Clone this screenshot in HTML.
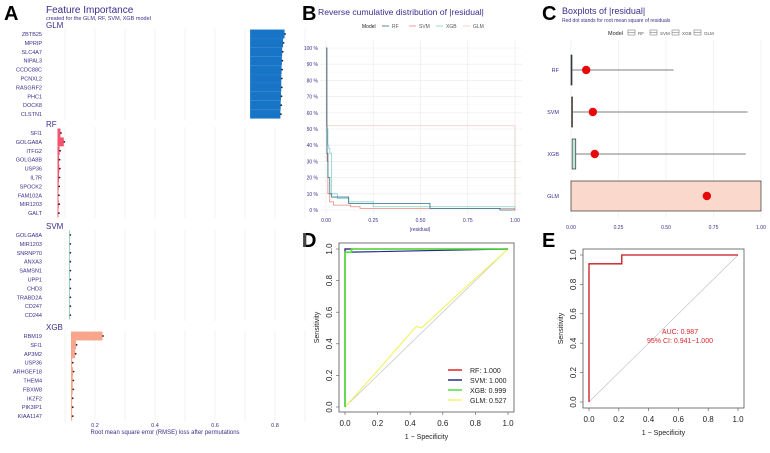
<!DOCTYPE html>
<html><head><meta charset="utf-8"><style>
body{margin:0;background:#fff;font-family:"Liberation Sans",sans-serif}
svg text{font-family:"Liberation Sans",sans-serif}
</style></head><body>
<svg id="s" width="770" height="448" viewBox="0 0 770 448" xmlns="http://www.w3.org/2000/svg">
<g font-weight="bold" font-size="20" fill="#000">
<text x="4" y="20">A</text>
<text x="302" y="20">B</text>
<text x="542" y="20">C</text>
<text x="302" y="247">D</text>
<text x="542" y="247">E</text>
</g>
<text x="46" y="13" font-size="10" fill="#3b2e8c">Feature Importance</text>
<text x="46" y="20" font-size="5.5" fill="#3b2e8c">created for the GLM, RF, SVM, XGB model</text>
<text x="165" y="434" font-size="6" fill="#3b2e8c" text-anchor="middle">Root mean square error (RMSE) loss after permutations</text>
<g id="gA"></g>
<text x="318" y="15" font-size="8.6" fill="#3b2e8c">Reverse cumulative distribution of |residual|</text>
<g id="gB"></g>
<text x="562" y="14" font-size="9" fill="#3b2e8c">Boxplots of |residual|</text>
<text x="562" y="22" font-size="5" fill="#3b2e8c">Red dot stands for root mean square of residuals</text>
<g id="gC"></g>
<g id="gD"></g>
<g id="gE"></g>
</svg>
<script>
const NS="http://www.w3.org/2000/svg";
function mk(p,t,a){const e=document.createElementNS(NS,t);for(const k in a)e.setAttribute(k,a[k]);p.appendChild(e);return e;}
// ---------- Panel A data ----------
const aModels=["GLM","RF","SVM","XGB"];
const aColors=["#1874c6","#f4546e","#2aa6a0","#f7a68c"];
const aBase=[0.717,0.075,0.115,0.12];
const aFeat=[
["ZBTB25","MPRIP","SLC4A7","NIPAL3","CCDC88C","PCNXL2","RASGRF2","PHC1","DOCK8","CLSTN1"],
["SFI1","GOLGA8A","ITFG2","GOLGA8B","USP36","IL7R","SPOCK2","FAM102A","MIR1203","GALT"],
["GOLGA8A","MIR1203","SNRNP70","ANXA3","SAMSN1","UPP1","CHD3","TRABD2A","CD247","CD244"],
["RBM19","SFI1","AP3M2","USP36","ARHGEF18","THEM4","FBXW8","IKZF2","PIK3IP1","KIAA1147"]];
const aVals=[
[0.832,0.827,0.824,0.823,0.822,0.821,0.821,0.820,0.819,0.818],
[0.085,0.096,0.082,0.080,0.081,0.080,0.079,0.078,0.079,0.078],
[0.116,0.116,0.116,0.116,0.116,0.116,0.116,0.116,0.116,0.116],
[0.225,0.137,0.134,0.124,0.127,0.126,0.126,0.124,0.124,0.124]];
const aTicks=[0.2,0.4,0.6,0.8];
const ax=v=>35+v*300;
const gA=document.getElementById('gA');
const aStripY=[26,125,227,328];
for(let m=0;m<4;m++){
  const y0=aStripY[m];
  for(let v=0.1;v<0.95;v+=0.1){const l=mk(gA,'line',{x1:ax(v),x2:ax(v),y1:y0+2,y2:y0+94,stroke:'#ebebeb','stroke-width':0.6});}
  const st=mk(gA,'text',{x:46,y:y0+2,'font-size':8,fill:'#3b2e8c'});st.textContent=aModels[m];
  
  for(let i=0;i<10;i++){
    const yc=y0+8+i*8.9;
    const t=mk(gA,'text',{x:42,y:yc+2,'font-size':5.5,fill:'#3b2e8c','text-anchor':'end'});t.textContent=aFeat[m][i];
    
    const b=mk(gA,'rect',{x:ax(aBase[m]),y:yc-4.45,width:Math.max(0.5,ax(aVals[m][i])-ax(aBase[m])),height:8.9,fill:aColors[m]});
    
    const d=mk(gA,'circle',{cx:ax(aVals[m][i])+0.5,cy:yc,r:0.9,fill:'#222'});
    
  }
}
aTicks.forEach(v=>{const t=mk(gA,'text',{x:ax(v),y:427,'font-size':5.5,fill:'#3b2e8c','text-anchor':'middle'});t.textContent=v;});
// ---------- Panel B ----------
const bModels=["RF","SVM","XGB","GLM"];
const bColors=["#2b6e86","#e4877f","#7fd1c4","#f2c9b8"];
const bX=[[0,0.005,0.01,0.02,0.03,0.05,0.1,0.12,0.55,0.92,1],
[0,0.003,0.006,0.01,0.02,0.04,0.07,0.13,0.18,1],
[0,0.004,0.01,0.015,0.02,0.03,0.06,0.12,0.25,0.92,1],
[0,0.002,0.99,1]];
const bY=[[100,35,20,10,8,8,8,4,1,0,0],
[100,52,30,10,5,3,3,2,1,0],
[100,50,40,38,35,10,7,5,2,2,0],
[100,52,52,0]];
const bTicksX=[0,0.25,0.5,0.75,1];
const bTicksY=[0,10,20,30,40,50,60,70,80,90,100];
const bx=v=>326+v*189, by=v=>210-v*1.62;
const gB=document.getElementById('gB');
bTicksY.forEach(v=>{const l=mk(gB,'line',{x1:320,x2:522,y1:by(v),y2:by(v),stroke:'#ebebeb','stroke-width':0.6});
if(v<100){const l2=mk(gB,'line',{x1:320,x2:522,y1:by(v+5),y2:by(v+5),stroke:'#f4f4f4','stroke-width':0.4});}
const t=mk(gB,'text',{x:318,y:by(v)+2,'font-size':5,fill:'#3b2e8c','text-anchor':'end'});t.textContent=v+' %';});
bTicksX.forEach(v=>{const l=mk(gB,'line',{x1:bx(v),x2:bx(v),y1:40,y2:214,stroke:'#ebebeb','stroke-width':0.6});
const t=mk(gB,'text',{x:bx(v),y:222,'font-size':5,fill:'#3b2e8c','text-anchor':'middle'});t.textContent=v.toFixed(2);});
for(let m=3;m>=0;m--){let d='';for(let i=0;i<bX[m].length;i++){d+=(i?'H'+bx(bX[m][i])+'V'+by(bY[m][i]):'M'+bx(bX[m][i])+' '+by(bY[m][i]));}
const p=mk(gB,'path',{d:d,fill:'none',stroke:bColors[m],'stroke-width':0.8});}
const bt=mk(gB,'text',{x:420,y:231,'font-size':5,fill:'#3b2e8c','text-anchor':'middle'});bt.textContent='|residual|';
let lt=mk(gB,'text',{x:362,y:28,'font-size':5,fill:'#222'});lt.textContent='Model';
bModels.forEach((m,i)=>{const x=382+i*27;const l=mk(gB,'line',{x1:x,x2:x+7,y1:26,y2:26,stroke:bColors[i],'stroke-width':0.8});
const t=mk(gB,'text',{x:x+10,y:28,'font-size':5,fill:'#555'});t.textContent=m;});
// ---------- Panel C ----------
const cModels=["RF","SVM","XGB","GLM"];
const cFill=["#3b4a7a","#e89a8f","#bfe8dd","#fad9cc"];
const cQ1=[0.0,0.003,0.006,0.0], cQ3=[0.003,0.007,0.025,1.0], cWhisk=[0.54,0.93,0.92,1.0], cRmse=[0.08,0.115,0.125,0.715];
const cTicks=[0,0.25,0.5,0.75,1];
const cx=v=>571+v*190; const cy=i=>70+i*42;
const gC=document.getElementById('gC');
cTicks.forEach(v=>{const l=mk(gC,'line',{x1:cx(v),x2:cx(v),y1:40,y2:218,stroke:'#ebebeb','stroke-width':0.6});
const t=mk(gC,'text',{x:cx(v),y:229,'font-size':5,fill:'#3b2e8c','text-anchor':'middle'});t.textContent=v.toFixed(2);});
cModels.forEach((m,i)=>{const y=cy(i);
const t=mk(gC,'text',{x:559,y:y+2,'font-size':5.5,fill:'#3b2e8c','text-anchor':'end'});t.textContent=m;
const w=mk(gC,'line',{x1:cx(cQ3[i]),x2:cx(cWhisk[i]),y1:y,y2:y,stroke:'#555','stroke-width':0.7});
const b=mk(gC,'rect',{x:cx(cQ1[i]),y:y-15,width:Math.max(1,cx(cQ3[i])-cx(cQ1[i])),height:30,fill:cFill[i],stroke:'#333','stroke-width':0.7});
const d=mk(gC,'circle',{cx:cx(cRmse[i]),cy:y,r:4.2,fill:'#e8070a'});});
lt=mk(gC,'text',{x:608,y:35,'font-size':5.5,fill:'#222'});lt.textContent='Model';
cModels.forEach((m,i)=>{const x=628+i*22;const r=mk(gC,'rect',{x:x,y:30,width:7,height:5,fill:'#fff',stroke:'#666','stroke-width':0.5});
mk(gC,'line',{x1:x,x2:x+7,y1:32.5,y2:32.5,stroke:'#666','stroke-width':0.5});
const t=mk(gC,'text',{x:x+10,y:35,'font-size':4.5,fill:'#555'});t.textContent=m;});
// ---------- ROC common ----------
function roc(g,x0,x1,y0,y1,bx0,bx1,by0,by1,nm){
  const fx=v=>x0+v*(x1-x0), fy=v=>y0-v*(y0-y1);
  const r=mk(g,'rect',{x:bx0,y:by0,width:bx1-bx0,height:by1-by0,fill:'none',stroke:'#555','stroke-width':0.8});
  const ticks=[0,0.2,0.4,0.6,0.8,1];
  ticks.forEach(v=>{const t=mk(g,'text',{x:fx(v),y:by1+14,'font-size':8,fill:'#222','text-anchor':'middle'});t.textContent=v.toFixed(1);
  mk(g,'line',{x1:fx(v),x2:fx(v),y1:by1,y2:by1+3,stroke:'#555','stroke-width':0.6});
  const u=mk(g,'text',{x:bx0-7,y:fy(v),'font-size':8,fill:'#222','text-anchor':'middle',transform:`rotate(-90 ${bx0-7} ${fy(v)})`});u.textContent=v.toFixed(1);
  mk(g,'line',{x1:bx0-3,x2:bx0,y1:fy(v),y2:fy(v),stroke:'#555','stroke-width':0.6});});
  const xt=mk(g,'text',{x:(bx0+bx1)/2,y:by1+27,'font-size':7,fill:'#222','text-anchor':'middle'});xt.textContent='1 − Specificity';
  const yt=mk(g,'text',{x:bx0-20,y:(by0+by1)/2,'font-size':7,fill:'#222','text-anchor':'middle',transform:`rotate(-90 ${bx0-20} ${(by0+by1)/2})`});yt.textContent='Sensitivity';
  const dg=mk(g,'line',{x1:fx(0),y1:fy(0),x2:fx(1),y2:fy(1),stroke:'#bbb','stroke-width':0.6});
  return [fx,fy];
}
function pathOf(xs,ys,fx,fy){return xs.map((v,i)=>(i?'L':'M')+fx(v)+' '+fy(ys[i])).join('');}
// ---------- Panel D ----------
const dModels=["RF","SVM","XGB","GLM"];
const dColors=["#e0262a","#222a8c","#4ee13b","#f3f36a"];
const dAuc=["1.000","1.000","0.999","0.527"];
const dFpr=[[0,0,1],[0,0,0.04,0.04,1],[0,0,0.04,0.04,1],[0,0.2,0.42,0.44,0.47,0.7,1]];
const dTpr=[[0,1,1],[0,1,1,0.98,1],[0,0.98,0.98,1,1],[0,0.23,0.49,0.51,0.5,0.72,1]];
const gD=document.getElementById('gD');
let [fx,fy]=roc(gD,345,508,407,249,339,514,243,412,'roc-d');
[3,0,1,2].forEach(m=>{const p=mk(gD,'path',{d:pathOf(dFpr[m],dTpr[m],fx,fy),fill:'none',stroke:dColors[m],'stroke-width':m==2?1.6:1.2});});
dModels.forEach((m,i)=>{const y=370+i*10;const l=mk(gD,'line',{x1:448,x2:462,y1:y,y2:y,stroke:dColors[i],'stroke-width':1.5});
const t=mk(gD,'text',{x:470,y:y+3,'font-size':7,fill:'#222'});t.textContent=m+': '+dAuc[i];});
// ---------- Panel E ----------
const eFpr=[0,0,0.22,0.22,1];
const eTpr=[0,0.94,0.94,1,1];
const gE=document.getElementById('gE');
[fx,fy]=roc(gE,589,738,402,255,583,744,249,408,'roc-e');
const ep=mk(gE,'path',{d:pathOf(eFpr,eTpr,fx,fy),fill:'none',stroke:'#c8171c','stroke-width':1.3});
let et=mk(gE,'text',{x:680,y:334,'font-size':7,fill:'#d8262a','text-anchor':'middle'});et.textContent='AUC: 0.987';
et=mk(gE,'text',{x:680,y:343,'font-size':7,fill:'#d8262a','text-anchor':'middle'});et.textContent='95% CI: 0.941−1.000';
</script>
</body></html>
